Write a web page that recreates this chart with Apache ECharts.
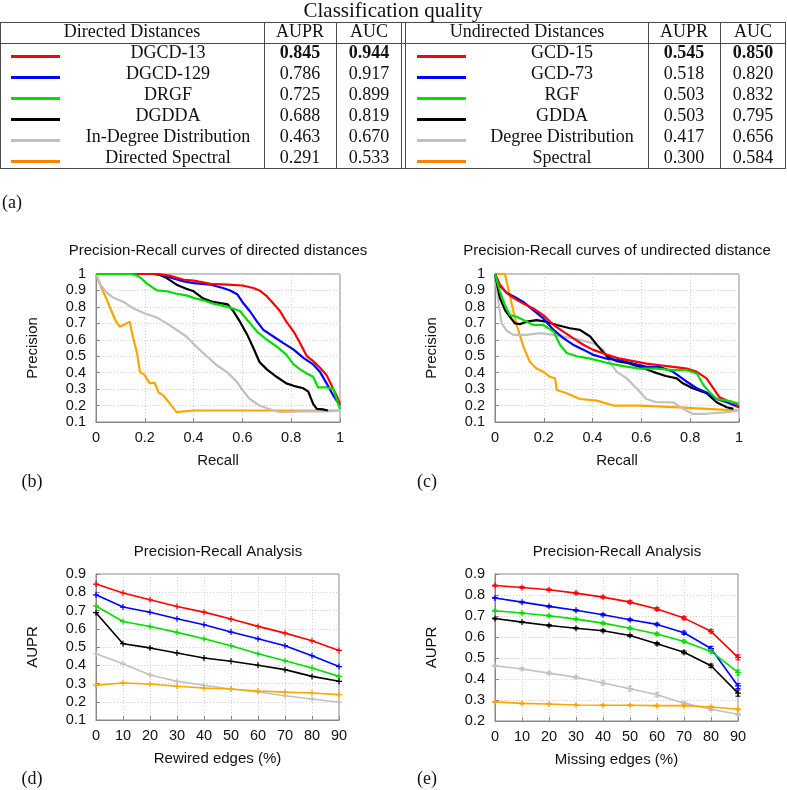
<!DOCTYPE html>
<html>
<head>
<meta charset="utf-8">
<script src="https://cdn.jsdelivr.net/npm/echarts@6/dist/echarts.min.js"></script>
<style>html,body{margin:0;padding:0;background:#fff}#chart{width:787px;height:790px}</style>
</head>
<body>
<div id="chart"></div>
<script>
// ---------- Table data ----------
const tableTitle = 'Classification quality';
const directedHeader = 'Directed Distances';
const undirectedHeader = 'Undirected Distances';
const colHeaders = ['AUPR', 'AUC'];
const directedNames = ['DGCD-13', 'DGCD-129', 'DRGF', 'DGDDA', 'In-Degree Distribution', 'Directed Spectral'];
const directedAUPR = ['0.845', '0.786', '0.725', '0.688', '0.463', '0.291'];
const directedAUC = ['0.944', '0.917', '0.899', '0.819', '0.670', '0.533'];
const undirectedNames = ['GCD-15', 'GCD-73', 'RGF', 'GDDA', 'Degree Distribution', 'Spectral'];
const undirectedAUPR = ['0.545', '0.518', '0.503', '0.503', '0.417', '0.300'];
const undirectedAUC = ['0.850', '0.820', '0.832', '0.795', '0.656', '0.584'];

// ---------- (b) PR curves, directed: [recall, precision] ----------
const dirRed = [[0,1],[0.25,1],[0.30,0.99],[0.36,0.965],[0.40,0.96],[0.47,0.94],[0.54,0.935],[0.60,0.93],[0.645,0.915],[0.67,0.90],[0.70,0.865],[0.727,0.82],[0.754,0.775],[0.78,0.71],[0.81,0.65],[0.836,0.58],[0.864,0.50],[0.89,0.47],[0.918,0.43],[0.945,0.385],[0.966,0.32],[0.986,0.26],[1,0.21]];
const dirBlue = [[0,1],[0.25,1],[0.30,0.98],[0.36,0.955],[0.40,0.945],[0.47,0.935],[0.52,0.915],[0.55,0.90],[0.58,0.875],[0.60,0.83],[0.63,0.775],[0.66,0.71],[0.686,0.66],[0.727,0.62],[0.768,0.58],[0.81,0.54],[0.85,0.49],[0.89,0.45],[0.918,0.405],[0.945,0.335],[0.973,0.26],[1,0.2]];
const dirGreen = [[0,1],[0.14,1],[0.16,0.995],[0.18,0.98],[0.21,0.94],[0.25,0.90],[0.29,0.895],[0.33,0.88],[0.37,0.87],[0.40,0.855],[0.44,0.84],[0.48,0.82],[0.54,0.80],[0.59,0.775],[0.62,0.72],[0.66,0.65],[0.70,0.60],[0.74,0.56],[0.78,0.51],[0.81,0.45],[0.836,0.42],[0.864,0.395],[0.89,0.375],[0.91,0.31],[0.945,0.31],[0.973,0.30],[0.986,0.24],[1,0.18]];
const dirBlack = [[0,1],[0.236,1],[0.26,0.995],[0.29,0.975],[0.33,0.935],[0.37,0.91],[0.40,0.895],[0.44,0.85],[0.48,0.83],[0.54,0.815],[0.56,0.78],[0.59,0.71],[0.62,0.63],[0.645,0.55],[0.67,0.465],[0.70,0.42],[0.74,0.375],[0.78,0.335],[0.81,0.32],[0.85,0.305],[0.87,0.285],[0.89,0.21],[0.905,0.18],[0.93,0.177],[0.95,0.17]];
const dirGray = [[0,1],[0.018,0.935],[0.045,0.885],[0.072,0.855],[0.113,0.83],[0.154,0.79],[0.2,0.76],[0.25,0.735],[0.29,0.70],[0.33,0.66],[0.37,0.62],[0.41,0.56],[0.454,0.50],[0.495,0.445],[0.536,0.405],[0.577,0.345],[0.60,0.295],[0.63,0.24],[0.67,0.20],[0.727,0.17],[0.754,0.16],[0.85,0.165],[0.95,0.165],[1,0.17]];
const dirOrange = [[0,1],[0.018,0.93],[0.038,0.865],[0.059,0.79],[0.079,0.72],[0.097,0.68],[0.12,0.695],[0.138,0.71],[0.154,0.60],[0.168,0.52],[0.18,0.405],[0.20,0.385],[0.22,0.335],[0.24,0.34],[0.256,0.28],[0.277,0.26],[0.304,0.21],[0.33,0.16],[0.40,0.17],[0.6,0.17],[0.8,0.17],[1,0.17]];

// ---------- (c) PR curves, undirected ----------
const undRed = [[0,1],[0.02,0.935],[0.048,0.885],[0.075,0.855],[0.116,0.82],[0.157,0.79],[0.198,0.75],[0.24,0.69],[0.28,0.65],[0.32,0.61],[0.362,0.57],[0.40,0.54],[0.458,0.51],[0.512,0.485],[0.567,0.47],[0.62,0.455],[0.676,0.445],[0.73,0.435],[0.786,0.425],[0.827,0.405],[0.867,0.365],[0.895,0.305],[0.92,0.25],[0.95,0.23],[0.977,0.22],[1,0.19]];
const undBlue = [[0,1],[0.02,0.93],[0.048,0.885],[0.075,0.865],[0.116,0.83],[0.157,0.78],[0.198,0.73],[0.24,0.66],[0.28,0.61],[0.32,0.57],[0.362,0.54],[0.40,0.51],[0.458,0.485],[0.512,0.475],[0.567,0.455],[0.62,0.435],[0.676,0.435],[0.73,0.405],[0.786,0.345],[0.827,0.305],[0.867,0.28],[0.908,0.24],[0.95,0.22],[1,0.19]];
const undGreen = [[0,1],[0.02,0.895],[0.041,0.81],[0.061,0.75],[0.089,0.74],[0.116,0.72],[0.157,0.69],[0.198,0.69],[0.24,0.65],[0.266,0.57],[0.294,0.52],[0.335,0.50],[0.39,0.485],[0.458,0.46],[0.526,0.44],[0.594,0.425],[0.662,0.425],[0.73,0.415],[0.786,0.415],[0.827,0.395],[0.854,0.325],[0.88,0.28],[0.908,0.24],[0.95,0.23],[1,0.21]];
const undBlack = [[0,1],[0.02,0.855],[0.041,0.78],[0.061,0.74],[0.082,0.70],[0.102,0.695],[0.13,0.71],[0.17,0.72],[0.21,0.71],[0.253,0.69],[0.307,0.67],[0.348,0.66],[0.39,0.62],[0.423,0.56],[0.458,0.50],[0.499,0.47],[0.54,0.46],[0.594,0.435],[0.648,0.405],[0.70,0.38],[0.745,0.365],[0.77,0.335],[0.81,0.305],[0.867,0.275],[0.908,0.22],[0.95,0.19],[0.977,0.18]];
const undGray = [[0,1],[0.014,0.83],[0.027,0.70],[0.048,0.655],[0.075,0.63],[0.13,0.63],[0.184,0.64],[0.24,0.63],[0.294,0.615],[0.348,0.60],[0.40,0.58],[0.444,0.54],[0.47,0.465],[0.499,0.405],[0.54,0.365],[0.58,0.305],[0.62,0.24],[0.662,0.22],[0.73,0.22],[0.77,0.18],[0.81,0.15],[0.867,0.15],[0.95,0.16],[1,0.17]];
const undOrange = [[0,1],[0.041,1],[0.061,0.865],[0.089,0.69],[0.116,0.56],[0.143,0.465],[0.17,0.425],[0.198,0.405],[0.225,0.375],[0.246,0.365],[0.253,0.295],[0.294,0.275],[0.348,0.24],[0.417,0.23],[0.485,0.20],[0.594,0.20],[0.73,0.19],[0.867,0.18],[1,0.17]];

// ---------- (d) AUPR vs rewired edges ----------
const edgePercent = [0, 10, 20, 30, 40, 50, 60, 70, 80, 90];
const dRed = [0.845,0.796,0.759,0.722,0.691,0.653,0.613,0.576,0.534,0.481];
const dBlue = [0.786,0.719,0.690,0.655,0.622,0.582,0.545,0.507,0.452,0.393];
const dGreen = [0.725,0.640,0.612,0.580,0.545,0.507,0.463,0.425,0.385,0.339];
const dBlack = [0.688,0.518,0.495,0.467,0.440,0.422,0.400,0.376,0.339,0.312];
const dGray = [0.463,0.408,0.347,0.312,0.290,0.270,0.253,0.233,0.215,0.197];
const dOrange = [0.291,0.303,0.297,0.285,0.275,0.270,0.259,0.253,0.248,0.239];

// ---------- (e) AUPR vs missing edges (with error bars) ----------
const eRed = [0.845,0.836,0.825,0.809,0.790,0.766,0.733,0.690,0.627,0.503];
const eBlue = [0.786,0.766,0.746,0.727,0.706,0.682,0.660,0.620,0.545,0.367];
const eGreen = [0.725,0.714,0.701,0.685,0.666,0.642,0.614,0.579,0.531,0.431];
const eBlack = [0.688,0.671,0.655,0.642,0.630,0.607,0.568,0.527,0.463,0.333];
const eGray = [0.463,0.448,0.428,0.408,0.381,0.354,0.325,0.285,0.256,0.232];
const eOrange = [0.291,0.284,0.281,0.276,0.275,0.275,0.273,0.273,0.267,0.256];
const eRedErr = [0.003,0.004,0.004,0.005,0.005,0.007,0.007,0.008,0.008,0.012];
const eBlueErr = [0.003,0.004,0.004,0.004,0.005,0.005,0.006,0.008,0.010,0.012];
const eGreenErr = [0.003,0.004,0.004,0.004,0.005,0.005,0.006,0.007,0.008,0.012];
const eBlackErr = [0.003,0.003,0.004,0.004,0.005,0.005,0.006,0.007,0.008,0.015];
const eGrayErr = [0.003,0.005,0.006,0.007,0.010,0.012,0.010,0.007,0.006,0.005];
const eOrangeErr = [0.002,0.003,0.003,0.003,0.003,0.003,0.003,0.003,0.004,0.004];

// ---------- Styling ----------
const colors = ['#ff0000', '#0000ff', '#00dd00', '#000000', '#c0c0c0', '#ffa500'];
const tableColors = ['#ff0000', '#0000ff', '#00e000', '#000000', '#c0c0c0', '#ff8000'];
const SERIF = '"Liberation Serif", "DejaVu Serif", serif';
const SANS = '"Liberation Sans", Arial, sans-serif';
const LINE = '#4a4a4a';

// ---------- Table graphic ----------
const g = [];
function txt(x, y, s, size, bold, align) {
  g.push({type: 'text', x: x, y: y, silent: true,
    style: {text: s, font: (bold ? 'bold ' : '') + size + 'px ' + SERIF, fill: '#111',
      textAlign: align || 'center', textVerticalAlign: 'middle'}});
}
function ln(x1, y1, x2, y2) {
  g.push({type: 'line', silent: true, shape: {x1: x1, y1: y1, x2: x2, y2: y2},
    style: {stroke: LINE, lineWidth: 1}});
}
txt(393, 11, tableTitle, 21, false);
const T0 = 22.5, T1 = 43.5, T2 = 168.5;
ln(0, T0, 786, T0); ln(0, T1, 786, T1); ln(0, T2, 786, T2);
[0.5, 264.5, 336.5, 401.5, 405.5, 648.5, 720.5, 785.5].forEach(function (x) { ln(x, T0, x, T2); });
txt(132, 32, directedHeader, 18, false);
txt(300, 32, colHeaders[0], 18, false);
txt(369, 32, colHeaders[1], 18, false);
txt(527, 32, undirectedHeader, 18, false);
txt(684, 32, colHeaders[0], 18, false);
txt(753, 32, colHeaders[1], 18, false);
for (let i = 0; i < 6; i++) {
  const y = 53 + 21 * i;
  const bold = i === 0;
  g.push({type: 'line', silent: true, shape: {x1: 11, y1: y + 3.5, x2: 60, y2: y + 3.5},
    style: {stroke: tableColors[i], lineWidth: 3}});
  g.push({type: 'line', silent: true, shape: {x1: 417, y1: y + 3.5, x2: 466, y2: y + 3.5},
    style: {stroke: tableColors[i], lineWidth: 3}});
  txt(168, y, directedNames[i], 18, false);
  txt(300, y, directedAUPR[i], 18, bold);
  txt(369, y, directedAUC[i], 18, bold);
  txt(562, y, undirectedNames[i], 18, false);
  txt(684, y, undirectedAUPR[i], 18, bold);
  txt(753, y, undirectedAUC[i], 18, bold);
}
// panel letters
txt(12, 203, '(a)', 18, false);
txt(32, 482, '(b)', 18, false);
txt(427, 482, '(c)', 18, false);
txt(32, 779, '(d)', 18, false);
txt(427, 779, '(e)', 18, false);
// subplot titles
function stitle(x, y, s) {
  g.push({type: 'text', x: x, y: y, silent: true,
    style: {text: s, font: '15px ' + SANS, fill: '#111', textAlign: 'center', textVerticalAlign: 'middle'}});
}
stitle(218, 251, 'Precision-Recall curves of directed distances');
stitle(617, 251, 'Precision-Recall curves of undirected distance');
stitle(218, 552, 'Precision-Recall Analysis');
stitle(617, 552, 'Precision-Recall Analysis');

// ---------- Axes ----------
const grids = [
  {left: 96, top: 274, width: 244, height: 148},
  {left: 495, top: 274, width: 244, height: 148},
  {left: 96, top: 574, width: 243, height: 146},
  {left: 495, top: 574, width: 243, height: 147}
].map(function (o) { return Object.assign({show: true, borderColor: '#888', borderWidth: 1, backgroundColor: 'transparent'}, o); });

function xAx(idx, min, max, interval, name) {
  return {type: 'value', gridIndex: idx, min: min, max: max, interval: interval,
    name: name, nameLocation: 'middle', nameGap: 31,
    nameTextStyle: {fontFamily: SANS, fontSize: 15, color: '#111'},
    axisLine: {show: true, lineStyle: {color: '#888'}},
    axisTick: {show: true, inside: true, length: 4, lineStyle: {color: '#888'}},
    axisLabel: {fontFamily: SANS, fontSize: 14.5, color: '#111', margin: 8},
    splitLine: {show: true, lineStyle: {color: '#cfcfcf', type: [1, 2]}}};
}
function yAx(idx, min, max, interval, name) {
  return {type: 'value', gridIndex: idx, min: min, max: max, interval: interval,
    name: name, nameLocation: 'middle', nameGap: 56, nameRotate: 90,
    nameTextStyle: {fontFamily: SANS, fontSize: 15, color: '#111'},
    axisLine: {show: true, lineStyle: {color: '#888'}},
    axisTick: {show: true, inside: true, length: 4, lineStyle: {color: '#888'}},
    axisLabel: {fontFamily: SANS, fontSize: 14.5, color: '#111', margin: 10},
    splitLine: {show: true, lineStyle: {color: '#cfcfcf', type: [1, 2]}}};
}

// ---------- Series ----------
const series = [];
const prB = [dirRed, dirBlue, dirGreen, dirBlack, dirGray, dirOrange];
const prC = [undRed, undBlue, undGreen, undBlack, undGray, undOrange];
const zOrder = [5, 4, 6, 3, 2, 1];
[4, 5, 3, 2, 1, 0].forEach(function (i) {
  series.push({type: 'line', xAxisIndex: 0, yAxisIndex: 0, data: prB[i], showSymbol: false,
    lineStyle: {color: colors[i], width: 2.2}, itemStyle: {color: colors[i]}, silent: true, z: 2 + zOrder[i]});
  series.push({type: 'line', xAxisIndex: 1, yAxisIndex: 1, data: prC[i], showSymbol: false,
    lineStyle: {color: colors[i], width: 2.2}, itemStyle: {color: colors[i]}, silent: true, z: 2 + zOrder[i]});
});
const PLUS = 'path://M2,0h1v2h2v1h-2v2h-1v-2h-2v-1h2z';
function pairs(ys) { return edgePercent.map(function (x, k) { return [x, ys[k]]; }); }
const dSets = [dRed, dBlue, dGreen, dBlack, dGray, dOrange];
const eSets = [eRed, eBlue, eGreen, eBlack, eGray, eOrange];
const eErrs = [eRedErr, eBlueErr, eGreenErr, eBlackErr, eGrayErr, eOrangeErr];
function errRender(params, api) {
  const x = api.value(0), y = api.value(1), e = api.value(2);
  const t = api.coord([x, y + e]), b = api.coord([x, y - e]);
  const c = api.visual('color');
  const st = {stroke: c, lineWidth: 1};
  return {type: 'group', children: [
    {type: 'line', shape: {x1: t[0], y1: t[1], x2: b[0], y2: b[1]}, style: st},
    {type: 'line', shape: {x1: t[0] - 2.5, y1: t[1], x2: t[0] + 2.5, y2: t[1]}, style: st},
    {type: 'line', shape: {x1: b[0] - 2.5, y1: b[1], x2: b[0] + 2.5, y2: b[1]}, style: st}
  ]};
}
[5, 4, 3, 2, 1, 0].forEach(function (i) {
  series.push({type: 'line', xAxisIndex: 2, yAxisIndex: 2, data: pairs(dSets[i]),
    symbol: PLUS, symbolSize: 6, showSymbol: true,
    lineStyle: {color: colors[i], width: 1.6}, itemStyle: {color: colors[i]}, silent: true, z: 3 + i});
  series.push({type: 'line', xAxisIndex: 3, yAxisIndex: 3, data: pairs(eSets[i]),
    symbol: PLUS, symbolSize: 6, showSymbol: true,
    lineStyle: {color: colors[i], width: 1.6}, itemStyle: {color: colors[i]}, silent: true, z: 3 + i});
  series.push({type: 'custom', xAxisIndex: 3, yAxisIndex: 3, renderItem: errRender,
    data: edgePercent.map(function (x, k) { return [x, eSets[i][k], eErrs[i][k]]; }),
    itemStyle: {color: colors[i]}, silent: true, z: 3 + i});
});

const chart = echarts.init(document.getElementById('chart'), null, {renderer: 'canvas'});
chart.setOption({
  animation: false,
  backgroundColor: '#ffffff',
  grid: grids,
  xAxis: [xAx(0, 0, 1, 0.2, 'Recall'), xAx(1, 0, 1, 0.2, 'Recall'),
          xAx(2, 0, 90, 10, 'Rewired edges (%)'), xAx(3, 0, 90, 10, 'Missing edges (%)')],
  yAxis: [yAx(0, 0.1, 1, 0.1, 'Precision'), yAx(1, 0.1, 1, 0.1, 'Precision'),
          yAx(2, 0.1, 0.9, 0.1, 'AUPR'), yAx(3, 0.2, 0.9, 0.1, 'AUPR')],
  series: series,
  graphic: g
});
</script>
</body>
</html>
